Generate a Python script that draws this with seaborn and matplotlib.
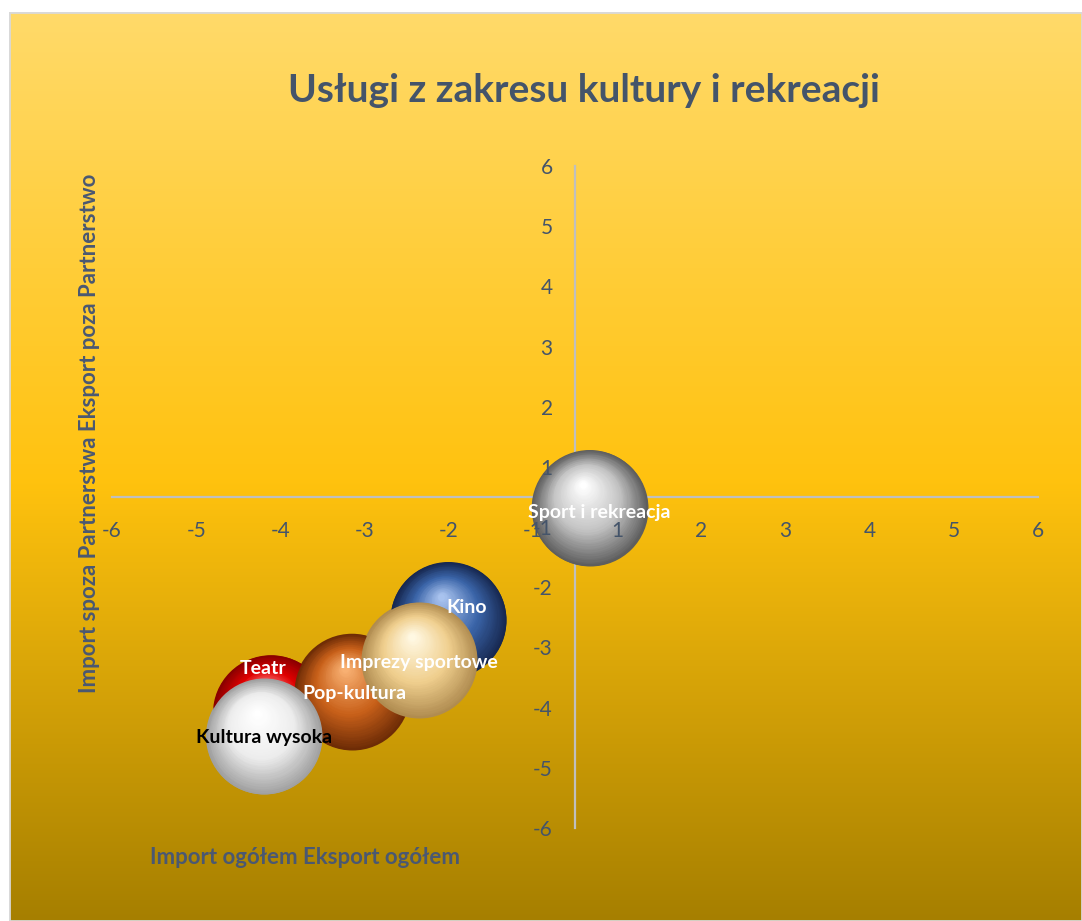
import numpy as np
import pandas as pd
import matplotlib.pyplot as plt
import matplotlib.transforms as mtransforms
from matplotlib.colors import to_rgb
from matplotlib.patches import Rectangle
import seaborn as sns

# Data (bubble centres)
names = ['Kino', 'Teatr', 'Pop-kultura', 'Imprezy sportowe', 'Kultura wysoka', 'Sport i rekreacja']
total_trade = [-1.64, -3.94, -2.89, -2.02, -4.03, 0.19]
outside_trade = [-2.23, -3.92, -3.53, -2.95, -4.34, -0.20]
bubble_size = [1, 1, 1, 1, 1, 1]

x_tick_labels = ['-6', '-5', '-4', '-3', '-2', '-1', '1', '2', '3', '4', '5', '6']
y_tick_labels = ['-6', '-5', '-4', '-3', '-2', '-1', '1', '2', '3', '4', '5', '6']

title = 'Usługi z zakresu kultury i rekreacji'
x_title = 'Import ogółem Eksport ogółem'
y_title = 'Import spoza Partnerstwa Eksport poza Partnerstwo'

# sphere colours: edge, mid, highlight, label colour
colors = {
    'Kino': ('#172850', '#3A64A8', '#A8C2EE', 'white'),
    'Teatr': ('#8A0000', '#E00000', '#FF9A9A', 'white'),
    'Pop-kultura': ('#6E2C06', '#C9611A', '#F8B072', 'white'),
    'Imprezy sportowe': ('#B08C50', '#F0CF8E', '#FFF8E2', 'white'),
    'Kultura wysoka': ('#A0A0A0', '#EDEDED', '#FFFFFF', 'black'),
    'Sport i rekreacja': ('#5E5E5E', '#C4C4C4', '#FFFFFF', 'white'),
}
label_offset = {  # points
    'Kino': (13, 9), 'Teatr': (-6, 32), 'Pop-kultura': (2, -1),
    'Imprezy sportowe': (0, -2), 'Kultura wysoka': (0, -1), 'Sport i rekreacja': (7, -3),
}

df = pd.DataFrame({'name': names, 'total': total_trade, 'outside': outside_trade, 'size': bubble_size})

sns.set_theme(style='white')
plt.rcParams['font.family'] = ['Lato', 'DejaVu Sans']

W, H = 1082, 921
fig = plt.figure(figsize=(W / 100, H / 100), dpi=100)
fig.patch.set_facecolor('white')

# gradient background of the chart area
bg = fig.add_axes([9 / W, 0, 1 - 9 / W, (H - 12) / H])
stops = [(0.0, '#FFDA6A'), (0.52, '#FFC20E'), (1.0, '#A67F00')]
pos = np.linspace(0, 1, 400)
grad = np.zeros((400, 1, 3))
for ch in range(3):
    grad[:, 0, ch] = np.interp(pos, [s[0] for s in stops], [to_rgb(s[1])[ch] for s in stops])
bg.imshow(grad, aspect='auto', extent=[0, 1, 0, 1])
bg.add_patch(Rectangle((0, 0), 1, 1, fill=False, edgecolor='#D9D9D9', lw=2, transform=bg.transAxes))
bg.set_axis_off()

ax = fig.add_axes([112 / W, (H - 828) / H, 926 / W, 662 / H])
ax.set_facecolor('none')

R_PT = 58 * 0.72
BUBBLE_S = (2 * R_PT) ** 2
edge_palette = {n: colors[n][0] for n in names}
sns.scatterplot(data=df, x='total', y='outside', hue='name', palette=edge_palette,
                size='size', sizes=(BUBBLE_S, BUBBLE_S), legend=False, linewidth=0, ax=ax, zorder=3)


def mix(a, b, t):
    a, b = np.array(to_rgb(a)), np.array(to_rgb(b))
    return tuple(a + (b - a) * t)


# fake 3D shading, one bubble at a time so the stacking order is kept
n_layers = 40
for k, row in df.iterrows():
    edge, mid, light, _ = colors[row['name']]
    r_full = R_PT * np.sqrt(row['size'])
    for i in range(n_layers):
        t = i / (n_layers - 1)
        r = r_full * (1 - 0.94 * t)
        c = mix(edge, mid, t / 0.45) if t < 0.45 else mix(mid, light, (t - 0.45) / 0.55)
        off = mtransforms.offset_copy(ax.transData, fig=fig, x=-0.12 * r_full * t,
                                      y=0.40 * r_full * t, units='points')
        ax.scatter([row['total']], [row['outside']], s=(2 * r) ** 2, color=c,
                   transform=off, linewidths=0, zorder=4 + k + i * 0.01)

for _, row in df.iterrows():
    ax.annotate(row['name'], (row['total'], row['outside']), xytext=label_offset[row['name']],
                textcoords='offset points', ha='center', va='center', fontsize=14,
                fontweight='bold', color=colors[row['name']][3], zorder=40)

ax.set_xlim(-6, 6)
ax.set_ylim(-6, 6)
ax.set_xlabel('')
ax.set_ylabel('')
for s in ['top', 'right']:
    ax.spines[s].set_visible(False)
for s in ['left', 'bottom']:
    ax.spines[s].set_position(('data', 0))
    ax.spines[s].set_color('#BFBFBF')
    ax.spines[s].set_linewidth(1.6)
    ax.spines[s].set_zorder(1)

tick_pos = np.linspace(-6, 6, len(x_tick_labels))
ax.set_xticks(tick_pos)
ax.set_xticklabels(x_tick_labels)
ax.set_yticks(np.linspace(-6, 6, len(y_tick_labels)))
ax.set_yticklabels(y_tick_labels)
ax.tick_params(axis='x', length=0, pad=17, labelsize=15, labelcolor='#44546A')
ax.tick_params(axis='y', length=0, pad=16, labelsize=15, labelcolor='#44546A')
ax.xaxis.set_zorder(20)
ax.yaxis.set_zorder(20)

fig.text(584 / W, 1 - 90 / H, title, ha='center', va='center', fontsize=28,
         fontweight='bold', color='#44546A')
fig.text(305 / W, 1 - 857 / H, x_title, ha='center', va='center', fontsize=16,
         fontweight='bold', color='#4A5872')
fig.text(90 / W, 1 - 433 / H, y_title, ha='center', va='center', fontsize=16,
         fontweight='bold', color='#4A5872', rotation=90)

fig.savefig('out.png', dpi=100)
